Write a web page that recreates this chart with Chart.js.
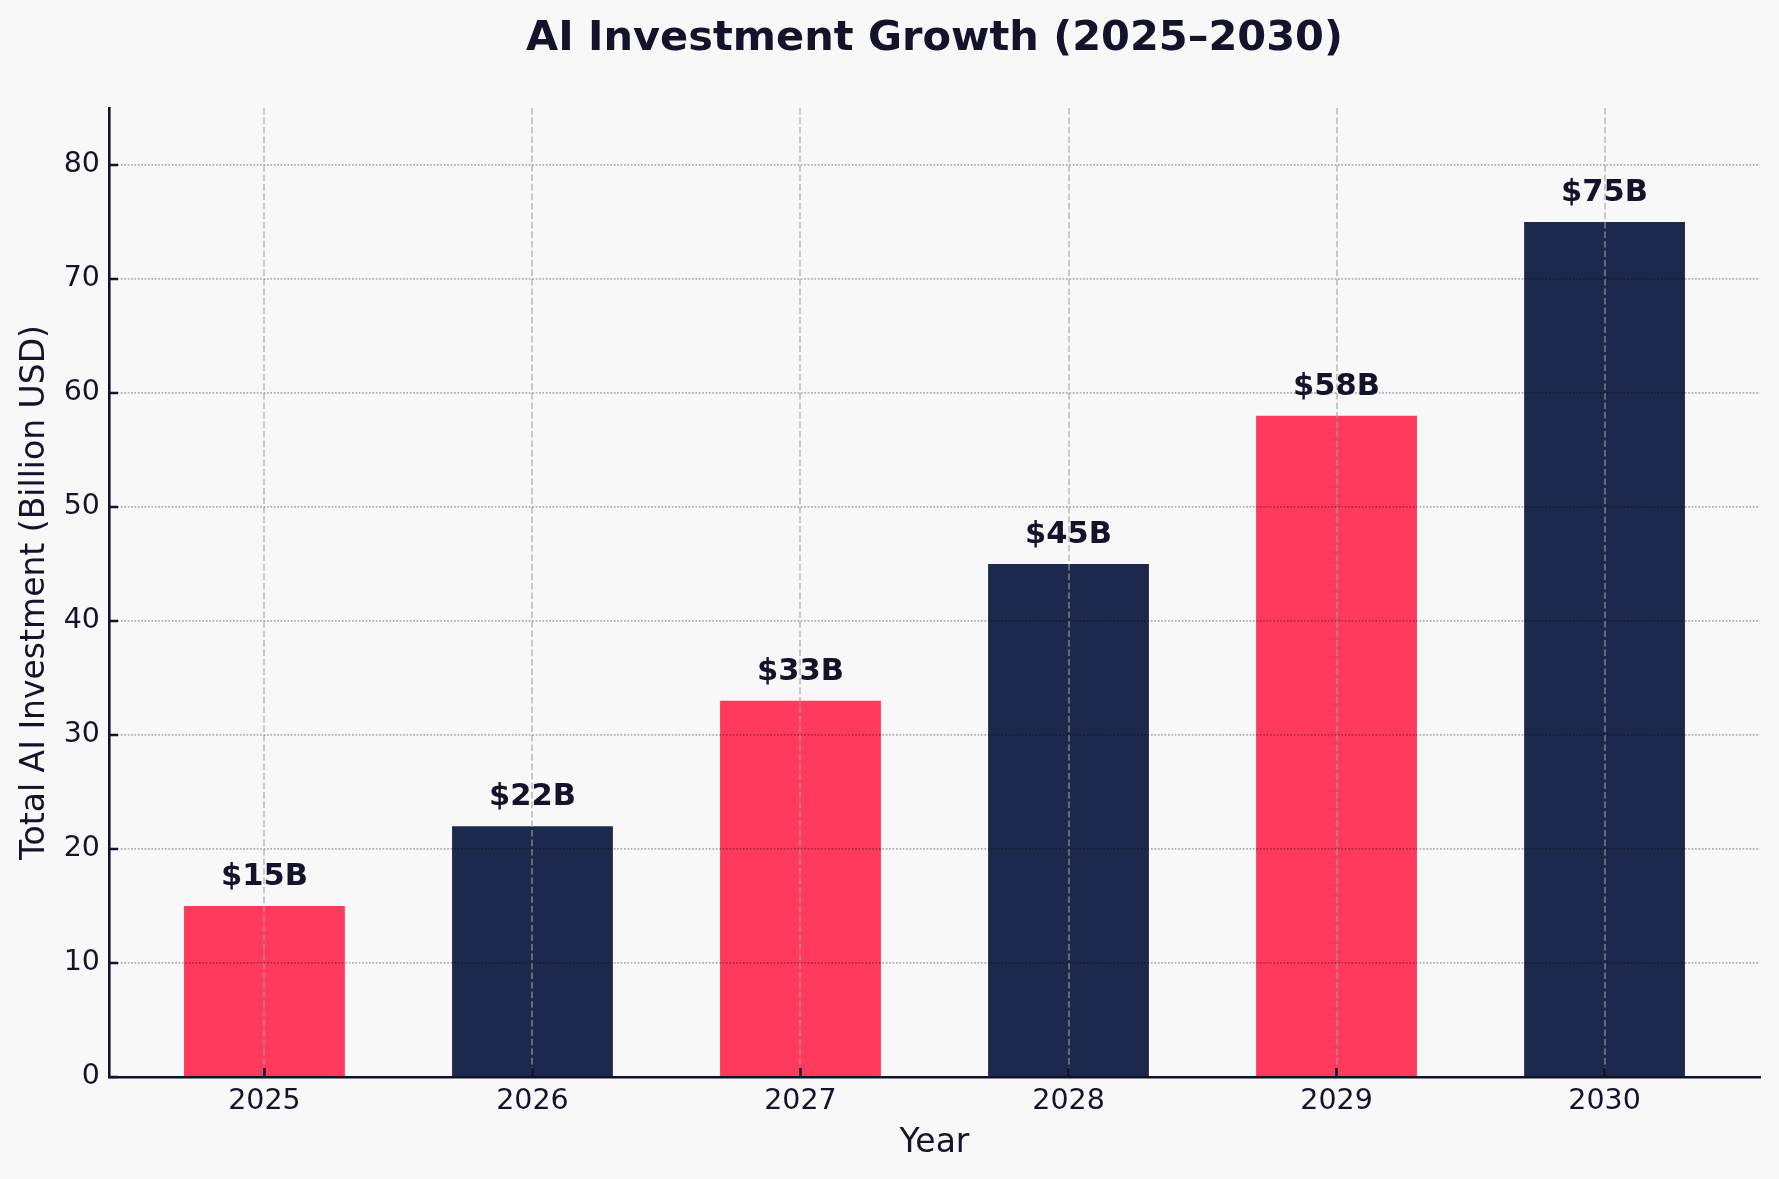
<!DOCTYPE html>
<html>
<head>
<meta charset="utf-8">
<title>AI Investment Growth</title>
<script src="https://cdn.jsdelivr.net/npm/chart.js@4"></script>
<style>
  html, body { margin: 0; padding: 0; background: #F8F8F8; }
  canvas { display: block; }
</style>
</head>
<body>
<canvas id="investChart" width="1779" height="1179" style="width:1779px;height:1179px"></canvas>
<script>
// chart data
const years = ["2025", "2026", "2027", "2028", "2029", "2030"];
const investment = [15, 22, 33, 45, 58, 75];
const barColors = ["#FF3A5C", "#1C294D", "#FF3A5C", "#1C294D", "#FF3A5C", "#1C294D"];
const yTicks = [0, 10, 20, 30, 40, 50, 60, 70, 80];

const INK = "#13132B";
const FONT = "'DejaVu Sans', sans-serif";
const TITLE = "AI Investment Growth (2025–2030)";

const bgPlugin = {
    id: "bg",
    beforeDraw(chart) {
        const ctx = chart.ctx;
        ctx.save();
        ctx.fillStyle = "#F8F8F8";
        ctx.fillRect(0, 0, chart.width, chart.height);
        ctx.restore();
    }
};

// title centred over the plot area, like matplotlib does
const plotTitle = {
    id: "plotTitle",
    afterDraw(chart) {
        const ctx = chart.ctx;
        const area = chart.chartArea;
        ctx.save();
        ctx.font = "bold 41.5px " + FONT;
        ctx.fillStyle = INK;
        ctx.textAlign = "center";
        ctx.textBaseline = "middle";
        ctx.fillText(TITLE, (area.left + area.right) / 2, 39);
        ctx.restore();
    }
};

// "$xxB" labels above each bar
const valueLabels = {
    id: "valueLabels",
    afterDraw(chart) {
        const ctx = chart.ctx;
        const x = chart.scales.x;
        const y = chart.scales.y;
        ctx.save();
        ctx.font = "bold 30.5px " + FONT;
        ctx.fillStyle = INK;
        ctx.textAlign = "center";
        ctx.textBaseline = "alphabetic";
        investment.forEach((v, i) => {
            ctx.fillText("$" + v + "B", x.getPixelForValue(i), y.getPixelForValue(v + 1.5) - 4);
        });
        ctx.restore();
    }
};

// matplotlib-style inward tick marks
const inwardTicks = {
    id: "inwardTicks",
    afterDraw(chart) {
        const ctx = chart.ctx;
        const area = chart.chartArea;
        const x = chart.scales.x;
        const y = chart.scales.y;
        ctx.save();
        ctx.strokeStyle = INK;
        ctx.lineWidth = 2.6;
        ctx.beginPath();
        yTicks.forEach(t => {
            const py = y.getPixelForValue(t);
            ctx.moveTo(area.left, py);
            ctx.lineTo(area.left + 9, py);
        });
        years.forEach((_, i) => {
            const px = x.getPixelForValue(i);
            ctx.moveTo(px, area.bottom);
            ctx.lineTo(px, area.bottom - 9);
        });
        ctx.stroke();
        ctx.restore();
    }
};

const ctx = document.getElementById("investChart").getContext("2d");

new Chart(ctx, {
    type: "bar",
    data: {
        datasets: [{
            label: "Total AI Investment",
            data: investment.map((v, i) => ({ x: i, y: v })),
            backgroundColor: barColors,
            borderWidth: 0,
            barPercentage: 0.6,
            categoryPercentage: 1.0
        }]
    },
    options: {
        responsive: false,
        animation: false,
        devicePixelRatio: 1,
        layout: { padding: { top: 108, right: 19, bottom: 0, left: 0 } },
        plugins: {
            legend: { display: false },
            tooltip: { enabled: false },
            title: { display: false }
        },
        scales: {
            x: {
                type: "linear",
                min: -0.58,
                max: 5.58,
                offset: false,
                afterBuildTicks(scale) {
                    scale.ticks = years.map((_, i) => ({ value: i }));
                },
                afterFit(scale) { scale.height = 102; },
                ticks: {
                    color: INK,
                    font: { family: FONT, size: 28.5 },
                    padding: 7,
                    maxRotation: 0,
                    callback: (v) => years[v] ?? ""
                },
                grid: {
                    offset: false,
                    z: 1,
                    color: "rgba(160,160,160,0.55)",
                    lineWidth: 2,
                    drawTicks: false
                },
                border: { display: true, z: 2, color: INK, width: 2.6, dash: [6.5, 3] },
                title: {
                    display: true,
                    text: "Year",
                    color: INK,
                    font: { family: FONT, size: 33 },
                    padding: { top: 4, bottom: 16 }
                }
            },
            y: {
                min: 0,
                max: 85,
                afterBuildTicks(scale) {
                    scale.ticks = yTicks.map(v => ({ value: v }));
                },
                afterFit(scale) { scale.width = 109; },
                ticks: {
                    color: INK,
                    font: { family: FONT, size: 28.5 },
                    padding: 9
                },
                grid: {
                    z: 1,
                    color: "rgba(0,0,0,0.3)",
                    lineWidth: 1.7,
                    drawTicks: false
                },
                border: { display: true, z: 2, color: INK, width: 2.6, dash: [1.7, 1.7] },
                title: {
                    display: true,
                    text: "Total AI Investment (Billion USD)",
                    color: INK,
                    font: { family: FONT, size: 33 },
                    padding: { top: 16, bottom: 4 }
                }
            }
        }
    },
    plugins: [bgPlugin, plotTitle, valueLabels, inwardTicks]
});
</script>
</body>
</html>
